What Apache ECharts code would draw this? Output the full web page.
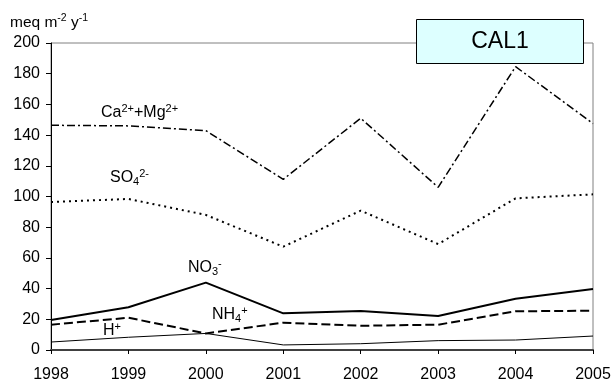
<!DOCTYPE html>
<html><head><meta charset="utf-8">
<script src="https://cdn.jsdelivr.net/npm/echarts@6/dist/echarts.min.js"></script>
<style>html,body{margin:0;padding:0;background:#fff}#c{width:614px;height:383px}</style>
</head><body><div id="c"></div>
<script>
var years = ['1998','1999','2000','2001','2002','2003','2004','2005'];
var caMg = [146.4, 146, 142.9, 111.2, 151, 106, 184.6, 147.5];
var so4  = [96.4, 98.4, 88, 67.3, 90.8, 69, 98.8, 101.4];
var no3  = [19.5, 27.8, 43.9, 23.9, 25.4, 22.1, 33.4, 39.7];
var nh4  = [16.5, 21, 10.8, 17.8, 15.8, 16.5, 25.2, 25.6];
var hPlus = [5.2, 8.3, 10.8, 3.3, 4.1, 6.1, 6.5, 9.1];
var yTicks = [0, 200, 20];

var F = '"Liberation Sans", Arial, sans-serif';
var rich = {
  n: {fontSize: 16, fontFamily: F, color: '#000'},
  sup: {fontSize: 11, fontFamily: F, color: '#000', padding: [0,0,9,0]},
  sub: {fontSize: 11, fontFamily: F, color: '#000', padding: [7,0,0,0]},
  t: {fontSize: 15.5, fontFamily: F, color: '#000'},
  tsup: {fontSize: 10.5, fontFamily: F, color: '#000', padding: [0,0,9,0]}
};
function lbl(x, y, txt) {
  return {type: 'text', left: x, top: y, z: 10, style: {text: txt, rich: rich}};
}

var chart = echarts.init(document.getElementById('c'));
function ser(name, data, lineStyle) {
  return {name: name, type: 'line', data: data, symbol: 'none', animation: false,
    lineStyle: Object.assign({color: '#000'}, lineStyle)};
}
chart.setOption({
  animation: false,
  grid: {left: 51, right: 21, top: 43, bottom: 33, show: true, borderColor: '#808080', borderWidth: 1, backgroundColor: 'transparent'},
  xAxis: {type: 'category', data: years, boundaryGap: false,
    axisLine: {lineStyle: {color: '#404040', width: 2}},
    axisTick: {show: true, length: 4, lineStyle: {color: '#000'}},
    axisLabel: {fontSize: 16, fontFamily: F, color: '#000', margin: 17},
    splitLine: {show: false}},
  yAxis: {type: 'value', min: yTicks[0], max: yTicks[1], interval: yTicks[2],
    axisLine: {show: true, lineStyle: {color: '#000', width: 1}},
    axisTick: {show: true, length: 5, lineStyle: {color: '#000'}},
    axisLabel: {fontSize: 16, fontFamily: F, color: '#000', margin: 11},
    splitLine: {show: false}},
  series: [
    ser('Ca2++Mg2+', caMg, {width: 1.5, type: [8,3,2,3]}),
    ser('SO42-', so4, {width: 2, type: [2,4]}),
    ser('NO3-', no3, {width: 2, type: 'solid'}),
    ser('NH4+', nh4, {width: 2, type: [9,4]}),
    ser('H+', hPlus, {width: 1, type: 'solid'})
  ],
  graphic: [
    {type: 'text', left: 10, top: 13, style: {text: '{t|meq m}{tsup|-2}{t| y}{tsup|-1}', rich: rich}},
    {type: 'rect', shape: {x: 416.5, y: 19.5, width: 167, height: 44}, style: {fill: '#DDFFFF', stroke: '#000', lineWidth: 1}, z: 20},
    {type: 'text', x: 500, y: 42, z: 21, style: {text: 'CAL1', font: '23px ' + F, fill: '#000', align: 'center', verticalAlign: 'middle'}},
    lbl(101, 103, '{n|Ca}{sup|2+}{n|+Mg}{sup|2+}'),
    lbl(110, 168, '{n|SO}{sub|4}{sup|2-}'),
    lbl(188, 258, '{n|NO}{sub|3}{sup|-}'),
    lbl(212, 305, '{n|NH}{sub|4}{sup|+}'),
    lbl(103, 321, '{n|H}{sup|+}')
  ]
});
</script></body></html>
